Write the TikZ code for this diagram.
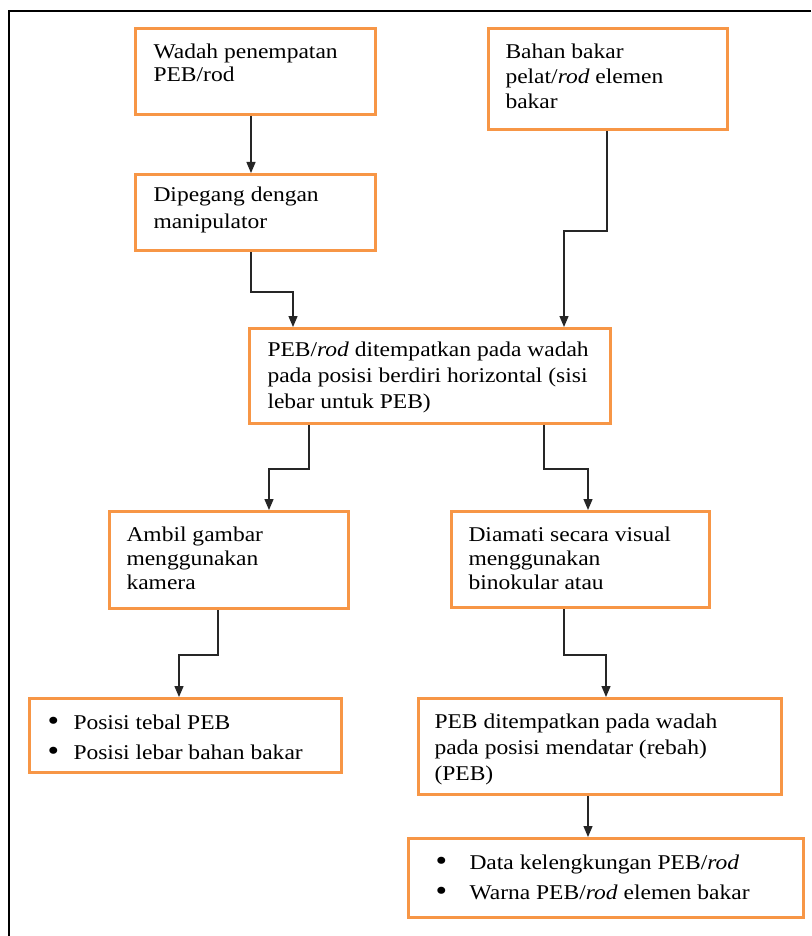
\documentclass[tikz,border=0pt]{standalone}
\usepackage{fontspec}
\usepackage{graphicx}
\setmainfont{Liberation Serif}[FakeStretch=1.12]
\usetikzlibrary{arrows.meta}
\definecolor{boxorange}{HTML}{F79646}
\newcommand{\bt}[5]{\parbox[t][#2][t]{#1}{\setlength{\baselineskip}{#4}\rule{0pt}{#3}#5\par}}
\newcommand{\bl}[2]{\makebox[#1][l]{\hspace*{-5pt}\raisebox{-1pt}{\scalebox{1.4}{\textbullet}}}#2}
\begin{document}
\begin{tikzpicture}[x=1pt,y=-1pt,
  font=\fontsize{21pt}{24pt}\selectfont,
  fbox/.style={draw=boxorange, line width=3pt, anchor=north west, inner ysep=0pt, fill=white},
  arr/.style={draw=black!85, line width=1.3pt, -{Triangle[length=11pt,width=9pt]}}]
\useasboundingbox (0,0) rectangle (811,936);
\fill[white] (0,0) rectangle (811,936);
\draw[line width=2.7pt, black] (811,11) -- (9,11) -- (9,936);

\node[fbox, inner xsep=18pt] (b1) at (134,27) {\bt{204pt}{86pt}{30pt}{23pt}{Wadah penempatan\\PEB/rod}};
\node[fbox, inner xsep=18pt] (b2) at (134,173) {\bt{204pt}{76pt}{27pt}{27pt}{Dipegang dengan\\manipulator}};
\node[fbox, inner xsep=17pt] (b3) at (487,27) {\bt{205pt}{101pt}{30pt}{25pt}{Bahan bakar\\pelat/\textit{rod} elemen\\bakar}};
\node[fbox, inner xsep=18pt] (b4) at (248,327) {\bt{325pt}{95pt}{28pt}{26pt}{PEB/\textit{rod} ditempatkan pada wadah\\pada posisi berdiri horizontal (sisi\\lebar untuk PEB)}};
\node[fbox, inner xsep=17pt] (b5) at (108,510) {\bt{205pt}{97pt}{30pt}{24pt}{Ambil gambar\\menggunakan\\kamera}};
\node[fbox, inner xsep=17pt] (b6) at (450,510) {\bt{224pt}{96pt}{30pt}{24pt}{Diamati secara visual\\menggunakan\\binokular atau}};
\node[fbox, inner xsep=23pt] (b7) at (28,697) {\bt{266pt}{74pt}{31pt}{30pt}{\bl{21pt}{Posisi tebal PEB}\\\bl{21pt}{Posisi lebar bahan bakar}}};
\node[fbox, inner xsep=16pt] (b8) at (417,697) {\bt{331pt}{96pt}{30pt}{26pt}{PEB ditempatkan pada wadah\\pada posisi mendatar (rebah)\\(PEB)}};
\node[fbox, inner xsep=32pt] (b9) at (407,837) {\bt{331pt}{79pt}{31pt}{30pt}{\bl{29pt}{Data kelengkungan PEB/\textit{rod}}\\\bl{29pt}{Warna PEB/\textit{rod} elemen bakar}}};

\draw[arr] ([xshift=117pt]b1.south west) -- ([xshift=117pt]b2.north west);
\draw[arr] ([xshift=117pt]b2.south west) -- ++(0,40) -| ([xshift=45pt]b4.north west);
\draw[arr] ([xshift=120pt]b3.south west) -- ++(0,100) -| ([xshift=316pt]b4.north west);
\draw[arr] ([xshift=61pt]b4.south west) -- ++(0,44) -| ([xshift=161pt]b5.north west);
\draw[arr] ([xshift=296pt]b4.south west) -- ++(0,44) -| ([xshift=138pt]b6.north west);
\draw[arr] ([xshift=110pt]b5.south west) -- ++(0,45) -| ([xshift=151pt]b7.north west);
\draw[arr] ([xshift=114pt]b6.south west) -- ++(0,46) -| ([xshift=189pt]b8.north west);
\draw[arr] ([xshift=171pt]b8.south west) -- ([xshift=181pt]b9.north west);
\end{tikzpicture}
\end{document}
